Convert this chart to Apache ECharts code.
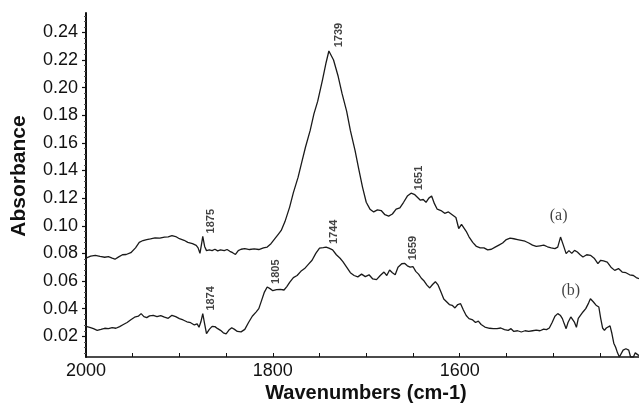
<!DOCTYPE html>
<html><head><meta charset="utf-8">
<script src="https://cdn.jsdelivr.net/npm/echarts@6/dist/echarts.min.js"></script>
<style>html,body{margin:0;padding:0;background:#fff}#c{width:639px;height:405px}</style>
</head><body><div id="c"></div>
<script>
const wavenumbersA = [2000,1995,1990,1985,1980,1976,1972,1969,1965,1961,1957,1952,1947,1943,1939,1935,1931,1926,1921,1916,1912,1908,1904,1900,1895,1891,1886,1882,1880,1878,1876,1875,1873,1871,1868,1865,1862,1859,1856,1852,1849,1846,1843,1840,1837,1834,1830,1825,1820,1815,1810,1806,1802,1798,1794,1791,1787,1782,1778,1773,1769,1765,1760,1756,1752,1747,1743,1740,1738,1735,1730,1726,1721,1717,1712,1708,1704,1700,1696,1692,1688,1684,1680,1676,1672,1668,1664,1660,1656,1652,1648,1645,1642,1639,1636,1633,1630,1627,1624,1620,1616,1612,1608,1604,1601,1598,1596,1593,1590,1586,1582,1578,1574,1570,1566,1562,1558,1554,1550,1546,1542,1538,1534,1530,1526,1522,1518,1514,1510,1506,1502,1498,1495,1492,1489,1486,1483,1480,1477,1474,1471,1468,1464,1460,1456,1452,1449,1446,1442,1438,1434,1430,1426,1422,1418,1414,1411,1408];
const absorbanceA = [0.0766,0.0780,0.0786,0.0778,0.0772,0.0776,0.0765,0.0758,0.0775,0.0790,0.0792,0.0805,0.0840,0.0880,0.0893,0.0900,0.0905,0.0912,0.0910,0.0918,0.0920,0.0928,0.0922,0.0906,0.0895,0.0880,0.0870,0.0858,0.0840,0.0800,0.0880,0.0923,0.0850,0.0820,0.0825,0.0820,0.0830,0.0818,0.0826,0.0820,0.0828,0.0815,0.0805,0.0792,0.0820,0.0830,0.0834,0.0828,0.0832,0.0828,0.0840,0.0846,0.0870,0.0905,0.0940,0.0966,0.1030,0.1135,0.1240,0.1350,0.1460,0.1570,0.1690,0.1810,0.1900,0.2050,0.2180,0.2265,0.2270,0.2200,0.2080,0.1960,0.1830,0.1690,0.1545,0.1410,0.1280,0.1170,0.1120,0.1100,0.1115,0.1110,0.1080,0.1070,0.1085,0.1120,0.1130,0.1170,0.1215,0.1236,0.1225,0.1205,0.1185,0.1190,0.1170,0.1200,0.1215,0.1160,0.1120,0.1110,0.1090,0.1100,0.1080,0.1060,0.0980,0.1010,0.1000,0.0960,0.0920,0.0880,0.0850,0.0840,0.0840,0.0825,0.0830,0.0845,0.0860,0.0875,0.0900,0.0910,0.0906,0.0900,0.0894,0.0888,0.0875,0.0860,0.0850,0.0855,0.0860,0.0848,0.0840,0.0834,0.0845,0.0918,0.0860,0.0798,0.0820,0.0800,0.0822,0.0810,0.0790,0.0774,0.0790,0.0786,0.0765,0.0726,0.0750,0.0745,0.0737,0.0700,0.0677,0.0690,0.0665,0.0660,0.0645,0.0640,0.0625,0.0617];
const wavenumbersB = [2000,1996,1992,1988,1984,1980,1976,1972,1968,1964,1960,1956,1952,1948,1944,1941,1938,1935,1932,1928,1924,1920,1916,1912,1908,1904,1900,1896,1892,1888,1884,1881,1879,1877,1875,1873,1871,1868,1865,1862,1859,1856,1853,1850,1847,1844,1841,1838,1834,1830,1826,1822,1818,1815,1812,1809,1806,1803,1800,1796,1792,1788,1785,1782,1778,1774,1770,1766,1762,1758,1754,1750,1746,1743,1740,1736,1732,1728,1725,1721,1717,1713,1709,1705,1701,1697,1693,1689,1685,1681,1678,1675,1672,1669,1666,1662,1659,1656,1653,1650,1647,1644,1641,1638,1635,1632,1629,1626,1623,1620,1617,1614,1611,1608,1605,1602,1599,1596,1593,1590,1586,1583,1580,1577,1573,1568,1564,1560,1556,1552,1548,1545,1542,1538,1534,1530,1526,1522,1518,1514,1510,1507,1504,1501,1498,1495,1492,1490,1488,1486,1484,1481,1479,1477,1475,1473,1471,1468,1465,1462,1460,1457,1454,1451,1449,1447,1445,1443,1441,1439,1437,1435,1433,1431,1429,1427,1425,1422,1419,1417,1414,1412,1410,1408];
const absorbanceB = [0.0272,0.0265,0.0255,0.0243,0.0250,0.0258,0.0255,0.0262,0.0258,0.0270,0.0285,0.0300,0.0320,0.0338,0.0345,0.0364,0.0342,0.0335,0.0348,0.0352,0.0342,0.0350,0.0338,0.0330,0.0352,0.0342,0.0328,0.0318,0.0305,0.0298,0.0282,0.0290,0.0265,0.0305,0.0364,0.0290,0.0219,0.0250,0.0272,0.0270,0.0255,0.0243,0.0225,0.0218,0.0245,0.0262,0.0250,0.0235,0.0232,0.0250,0.0300,0.0345,0.0375,0.0400,0.0460,0.0520,0.0557,0.0545,0.0530,0.0537,0.0540,0.0535,0.0560,0.0590,0.0625,0.0640,0.0670,0.0690,0.0720,0.0750,0.0800,0.0838,0.0842,0.0846,0.0838,0.0825,0.0790,0.0765,0.0740,0.0700,0.0660,0.0640,0.0630,0.0650,0.0632,0.0645,0.0615,0.0610,0.0640,0.0665,0.0640,0.0680,0.0660,0.0645,0.0700,0.0725,0.0728,0.0710,0.0700,0.0705,0.0670,0.0650,0.0620,0.0600,0.0570,0.0550,0.0575,0.0595,0.0570,0.0520,0.0470,0.0450,0.0430,0.0424,0.0405,0.0430,0.0436,0.0390,0.0350,0.0328,0.0318,0.0300,0.0310,0.0285,0.0267,0.0258,0.0255,0.0255,0.0260,0.0248,0.0243,0.0255,0.0235,0.0240,0.0231,0.0240,0.0235,0.0240,0.0245,0.0240,0.0252,0.0248,0.0260,0.0300,0.0345,0.0364,0.0350,0.0328,0.0290,0.0255,0.0300,0.0340,0.0352,0.0300,0.0265,0.0330,0.0340,0.0376,0.0400,0.0440,0.0472,0.0450,0.0425,0.0412,0.0330,0.0260,0.0243,0.0260,0.0270,0.0275,0.0220,0.0150,0.0120,0.0080,0.0050,0.0050,0.0100,0.0110,0.0100,0.0050,0.0050,0.0080,0.0070,0.0060];

const xTickValues = [2000,1950,1900,1850,1800,1750,1700,1650,1600,1550,1500,1450];
const xLabelValues = [2000,1800,1600];
const yLabelValues = [0.02,0.04,0.06,0.08,0.10,0.12,0.14,0.16,0.18,0.20,0.22,0.24];
const yMinorTickValues = [];
for (let i = 2; i <= 63; i++) { const v = +(i * 0.004).toFixed(3); if (Math.abs(v / 0.02 - Math.round(v / 0.02)) > 1e-6) yMinorTickValues.push(v); }

const peakLabels = ['1739','1875','1651','1805','1744','1659','1874'];
const peakX = [1738,1875,1652,1805,1743,1659,1875];
const peakY = [0.2270,0.0923,0.1236,0.0557,0.0846,0.0728,0.0364];
const curveNames = ['(a)','(b)'];
const curveNameX = [1494,1481];
const curveNameY = [0.107,0.053];

const X_MIN = 1408, X_MAX = 2000, Y_MIN = 0.005, Y_MAX = 0.254;
const zip = (xs, ys) => xs.map((x, i) => [x, ys[i]]);

const chart = echarts.init(document.getElementById('c'), null, {renderer: 'canvas'});
chart.setOption({
  animation: false,
  backgroundColor: '#fff',
  grid: {left: 86, right: 0, top: 13, bottom: 48, containLabel: false},
  xAxis: {
    type: 'value', min: X_MIN, max: X_MAX, inverse: true,
    axisLine: {show: true, lineStyle: {color: '#111', width: 1.5}},
    axisTick: {show: true, inside: true, length: 4, customValues: xTickValues, lineStyle: {color: '#111', width: 1}},
    axisLabel: {customValues: xLabelValues, formatter: v => String(Math.round(v)), color: '#111', fontSize: 18, fontFamily: 'Liberation Sans, Arial, sans-serif', margin: 5},
    splitLine: {show: false}
  },
  yAxis: [{
    type: 'value', min: Y_MIN, max: Y_MAX, position: 'left',
    axisLine: {show: true, lineStyle: {color: '#111', width: 2}},
    axisTick: {show: true, length: 4, customValues: yLabelValues, lineStyle: {color: '#111', width: 1.2}},
    axisLabel: {customValues: yLabelValues, formatter: v => v.toFixed(2), color: '#111', fontSize: 18, fontFamily: 'Liberation Sans, Arial, sans-serif', margin: 8},
    splitLine: {show: false}
  }, {
    type: 'value', min: Y_MIN, max: Y_MAX, position: 'left', offset: 0,
    axisLine: {show: false},
    axisTick: {show: true, length: 2, customValues: yMinorTickValues, lineStyle: {color: '#555', width: 1}},
    axisLabel: {show: false},
    splitLine: {show: false}
  }],
  series: [
    {type: 'line', data: zip(wavenumbersA, absorbanceA), showSymbol: false, symbol: 'none', lineStyle: {color: '#1a1a1a', width: 1.3}, clip: true},
    {type: 'line', data: zip(wavenumbersB, absorbanceB), showSymbol: false, symbol: 'none', lineStyle: {color: '#1a1a1a', width: 1.3}, clip: true},
    {type: 'scatter', symbolSize: 0, data: peakX.map((x, i) => ({value: [x, peakY[i]], name: peakLabels[i]})),
      label: {show: true, position: 'inside', formatter: p => p.name, rotate: 90, align: 'left', verticalAlign: 'middle', offset: [3, 8],
        fontSize: 11, fontWeight: 'bold', color: '#111', fontFamily: 'Liberation Sans, Arial, sans-serif'}, silent: true},
    {type: 'scatter', symbolSize: 0, data: curveNameX.map((x, i) => ({value: [x, curveNameY[i]], name: curveNames[i]})),
      label: {show: true, position: 'inside', formatter: p => p.name, align: 'center', verticalAlign: 'middle',
        fontSize: 16, color: '#111', fontFamily: 'Liberation Serif, Times New Roman, serif'}, silent: true}
  ],
  graphic: [
    {type: 'text', x: 19, y: 176, rotation: Math.PI / 2, style: {text: 'Absorbance', font: 'bold 21px "Liberation Sans", Arial, sans-serif', fill: '#111', textAlign: 'center', textVerticalAlign: 'middle'}},
    {type: 'text', x: 366, y: 393, style: {text: 'Wavenumbers (cm-1)', font: 'bold 20px "Liberation Sans", Arial, sans-serif', fill: '#111', textAlign: 'center', textVerticalAlign: 'middle'}}
  ]
});
</script></body></html>
